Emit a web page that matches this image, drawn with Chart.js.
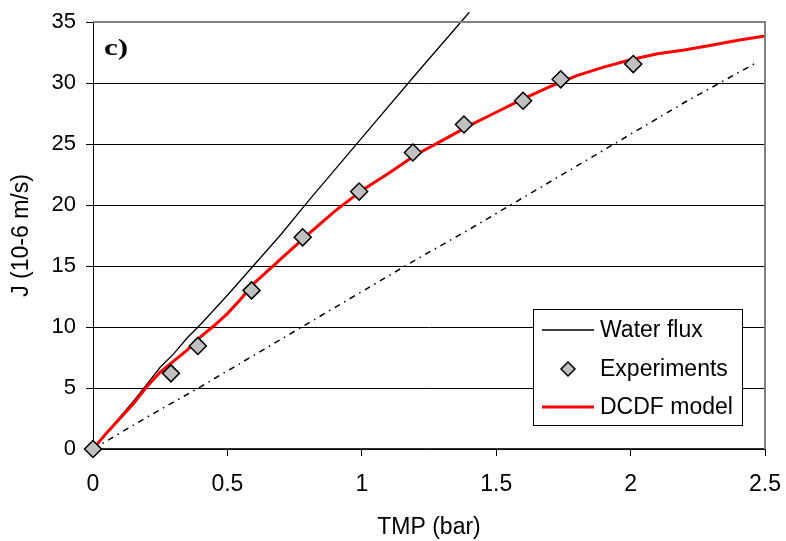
<!DOCTYPE html>
<html>
<head>
<meta charset="utf-8">
<script src="https://cdn.jsdelivr.net/npm/chart.js@4/dist/chart.umd.min.js"></script>
<style>
  html, body { margin: 0; padding: 0; background: #fff; }
  #wrap { width: 786px; height: 541px; }
</style>
</head>
<body>
<div id="wrap"><canvas id="c" width="786" height="541"></canvas></div>
<script>
// Pure water flux
const waterTmp = [0, 0.1, 0.15, 0.2, 0.25, 0.3, 0.35, 0.4, 0.5, 0.6, 0.7, 0.8, 1.0, 1.2, 1.4];
const waterJ   = [0, 2.6, 3.9, 5.3, 6.7, 7.8, 9.1, 10.2, 12.6, 15.1, 17.6, 20.3, 25.5, 30.7, 35.8];

// Measured permeate flux
const expTmp = [0, 0.29, 0.39, 0.59, 0.78, 0.99, 1.19, 1.38, 1.60, 1.74, 2.01];
const expJ   = [0, 6.2, 8.45, 13.0, 17.35, 21.1, 24.3, 26.6, 28.55, 30.3, 31.55];

// DCDF model prediction
const modelTmp = [0, 0.05, 0.1, 0.15, 0.2, 0.25, 0.3, 0.35, 0.4, 0.45, 0.5, 0.55, 0.6, 0.7, 0.8, 0.9, 1.0, 1.1, 1.2, 1.3, 1.4, 1.5, 1.6, 1.7, 1.8, 1.9, 2.0, 2.1, 2.2, 2.3, 2.4, 2.5];
const modelJ   = [0, 1.3, 2.5, 3.7, 5.1, 6.3, 7.2, 8.1, 9.2, 10.1, 11.1, 12.3, 13.6, 15.6, 17.6, 19.5, 21.2, 22.6, 24.1, 25.3, 26.5, 27.6, 28.7, 29.7, 30.6, 31.3, 31.9, 32.4, 32.7, 33.1, 33.5, 33.85];

// Lower dash-dot curve
const lowerTmp = [0, 0.2, 0.4, 0.6, 0.8, 1.0, 1.2, 1.4, 1.6, 1.8, 2.0, 2.2, 2.475];
const lowerJ   = [0, 2.6, 5.1, 7.7, 10.3, 12.9, 15.5, 18.0, 20.6, 23.2, 25.8, 28.4, 31.75];

// Axis ticks
const xTicks = [0, 0.5, 1, 1.5, 2, 2.5];
const yTicks = [0, 5, 10, 15, 20, 25, 30, 35];

const pts = (xs, ys) => xs.map((x, i) => ({ x: x, y: ys[i] }));

const FONT = "'Liberation Sans', Arial, sans-serif";

// Frame on the top and right of the plot, plus the panel tag
const framePlugin = {
  id: 'frame',
  afterDatasetsDraw(chart) {
    const { ctx, chartArea: a } = chart;
    ctx.save();
    ctx.strokeStyle = '#808080';
    ctx.lineWidth = 2;
    ctx.beginPath();
    ctx.moveTo(a.left, a.top);
    ctx.lineTo(a.right, a.top);
    ctx.lineTo(a.right, a.bottom);
    ctx.stroke();
    ctx.restore();

    ctx.save();
    ctx.fillStyle = '#000';
    ctx.font = "bold 24px 'Liberation Serif', 'Times New Roman', serif";
    ctx.textAlign = 'left';
    ctx.textBaseline = 'alphabetic';
    ctx.translate(104, 55);
    ctx.scale(1.3, 1);
    ctx.fillText('c)', 0, 0);
    ctx.restore();
  }
};

// Boxed legend inside the plot area
const boxLegend = {
  id: 'boxLegend',
  afterDraw(chart) {
    const { ctx } = chart;
    const x0 = 533, y0 = 309, w = 209, h = 116;
    ctx.save();
    ctx.fillStyle = '#fff';
    ctx.fillRect(x0, y0, w, h);
    ctx.strokeStyle = '#000';
    ctx.lineWidth = 1;
    ctx.strokeRect(x0 + 0.5, y0 + 0.5, w, h);
    const rows = [
      { ds: chart.data.datasets[1], y: 330 },
      { ds: chart.data.datasets[0], y: 369 },
      { ds: chart.data.datasets[2], y: 407 }
    ];
    ctx.font = '23px ' + FONT;
    ctx.textBaseline = 'middle';
    ctx.textAlign = 'left';
    rows.forEach(r => {
      const ds = r.ds;
      if (ds.showLine) {
        ctx.strokeStyle = ds.borderColor;
        ctx.lineWidth = ds.borderWidth;
        ctx.beginPath();
        ctx.moveTo(542, r.y);
        ctx.lineTo(594, r.y);
        ctx.stroke();
      } else {
        const s = 7;
        ctx.fillStyle = ds.backgroundColor;
        ctx.strokeStyle = ds.borderColor;
        ctx.lineWidth = 1.5;
        ctx.beginPath();
        ctx.moveTo(568, r.y - s);
        ctx.lineTo(568 + s, r.y);
        ctx.lineTo(568, r.y + s);
        ctx.lineTo(568 - s, r.y);
        ctx.closePath();
        ctx.fill();
        ctx.stroke();
      }
      ctx.fillStyle = '#000';
      ctx.fillText(ds.label, 600, r.y + 1);
    });
    ctx.restore();
  }
};

new Chart(document.getElementById('c'), {
  type: 'scatter',
  data: {
    datasets: [
      {
        label: 'Experiments',
        data: pts(expTmp, expJ),
        showLine: false,
        pointStyle: 'rectRot',
        pointRadius: 8.5,
        pointHoverRadius: 8.5,
        backgroundColor: '#C0C0C0',
        borderColor: '#000',
        borderWidth: 1.5,
        clip: false,
        order: 0
      },
      {
        label: 'Water flux',
        data: pts(waterTmp, waterJ),
        showLine: true,
        borderColor: '#000',
        borderWidth: 1.3,
        pointRadius: 0,
        tension: 0,
        clip: false,
        order: 2
      },
      {
        label: 'DCDF model',
        data: pts(modelTmp, modelJ),
        showLine: true,
        borderColor: '#FF0000',
        borderWidth: 3,
        pointRadius: 0,
        tension: 0,
        order: 1
      },
      {
        label: '',
        data: pts(lowerTmp, lowerJ),
        showLine: true,
        borderColor: '#000',
        borderWidth: 1.5,
        borderDash: [6, 5, 1.5, 5],
        pointRadius: 0,
        tension: 0,
        order: 3
      }
    ]
  },
  options: {
    responsive: false,
    animation: false,
    devicePixelRatio: 1,
    layout: { padding: { left: 0, top: 22, right: 21, bottom: 0 } },
    plugins: {
      legend: { display: false },
      tooltip: { enabled: false }
    },
    scales: {
      x: {
        type: 'linear',
        min: 0,
        max: 2.5,
        afterBuildTicks: s => { s.ticks = xTicks.map(v => ({ value: v })); },
        afterFit: s => {
          s.height = 92;
          s.paddingLeft = 0;
          s.paddingRight = 0;
        },
        ticks: {
          color: '#000',
          font: { family: FONT, size: 23 },
          padding: 15,
          maxRotation: 0,
          callback: v => String(v)
        },
        grid: {
          drawOnChartArea: false,
          drawTicks: true,
          tickLength: 7,
          tickColor: '#000',
          tickWidth: 1
        },
        border: { color: '#333', width: 1.2 },
        title: {
          display: true,
          text: 'TMP (bar)',
          color: '#000',
          font: { family: FONT, size: 23 },
          padding: { top: 0, bottom: 0 }
        }
      },
      y: {
        type: 'linear',
        min: 0,
        max: 35,
        afterBuildTicks: s => { s.ticks = yTicks.map(v => ({ value: v })); },
        afterFit: s => {
          s.width = 93;
          s.paddingTop = 0;
          s.paddingBottom = 0;
        },
        ticks: {
          color: '#000',
          font: { family: FONT, size: 22 },
          padding: 10,
          callback: v => String(v)
        },
        grid: {
          color: ctx => (ctx.tick && ctx.tick.value === 35) ? 'rgba(0,0,0,0)' : '#000',
          lineWidth: 1,
          drawTicks: true,
          tickLength: 7,
          tickColor: '#000',
          tickWidth: 1
        },
        border: { color: '#000', width: 1 },
        title: {
          display: true,
          text: 'J (10-6 m/s)',
          color: '#000',
          font: { family: FONT, size: 23 },
          padding: { top: 8, bottom: 0 }
        }
      }
    }
  },
  plugins: [framePlugin, boxLegend]
});
</script>
</body>
</html>
